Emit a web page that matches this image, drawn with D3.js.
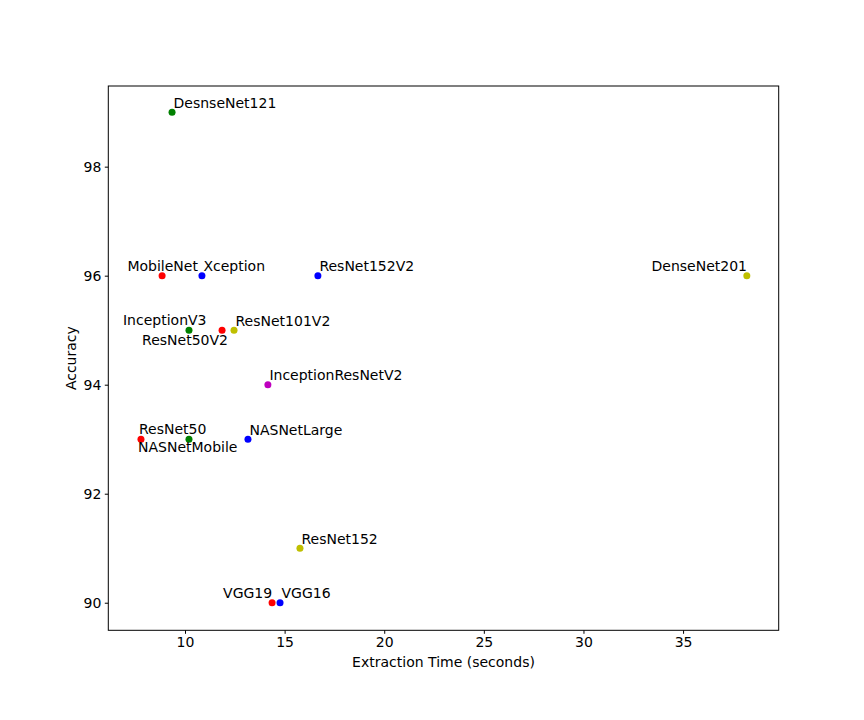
<!DOCTYPE html>
<html>
<head>
<meta charset="utf-8">
<script src="https://cdn.jsdelivr.net/npm/d3@7"></script>
<style>
body { margin: 0; background: #fff; }
text { font-family: "DejaVu Sans", sans-serif; fill: #000; }
.axis path, .axis line { stroke: #000; }
</style>
</head>
<body>
<script>
// model names, extraction time (s), accuracy (%), marker colour
var models   = ["DesnseNet121", "MobileNet", "Xception", "ResNet152V2", "DenseNet201",
                "InceptionV3", "ResNet50V2", "ResNet101V2", "InceptionResNetV2",
                "ResNet50", "NASNetMobile", "NASNetLarge", "ResNet152", "VGG19", "VGG16"];
var times    = [9.35, 8.85, 10.85, 16.67, 38.2,
                10.2, 11.86, 12.46, 14.16,
                7.79, 10.2, 13.16, 15.77, 14.37, 14.77];
var accuracy = [99, 96, 96, 96, 96,
                95, 95, 95, 94,
                93, 93, 93, 91, 90, 90];
var colors   = ["g", "r", "b", "b", "y",
                "g", "r", "y", "m",
                "r", "g", "b", "y", "r", "b"];

var xTicks = [10, 15, 20, 25, 30, 35];
var yTicks = [90, 92, 94, 96, 98];

// matplotlib short colour codes
var colorMap = {r: "#ff0000", g: "#008000", b: "#0000ff", y: "#bfbf00", m: "#bf00bf"};

// label placement relative to its point, in px
var labelOffset = {
    "MobileNet":    [-34.7, -4.3],
    "DenseNet201":  [-95.3, -4.6],
    "InceptionV3":  [-66, -4.8],
    "ResNet50V2":   [-80, 14.7],
    "ResNet50":     [-2, -5],
    "NASNetMobile": [-51, 13],
    "VGG19":        [-49, -4.3]
};

var width  = 864;
var height = 720;
var margin = {left: 108.3, right: 864 - 778.7, top: 86, bottom: 720 - 630.3};

var svg = d3.select("body").append("svg").attr("width", width).attr("height", height);

var x = d3.scaleLinear().domain([6.15, 39.8]).range([margin.left, width - margin.right]);
var y = d3.scaleLinear().domain([89.494, 99.48]).range([height - margin.bottom, margin.top]);

var data = models.map(function(m, i) {
    return {name: m, t: times[i], acc: accuracy[i], c: colors[i]};
});

var xAxis = d3.axisBottom(x).tickValues(xTicks).tickSize(3.5).tickPadding(3.5).tickSizeOuter(0);
var yAxis = d3.axisLeft(y).tickValues(yTicks).tickSize(3.5).tickPadding(3.5).tickSizeOuter(0);

var gx = svg.append("g").attr("class", "axis")
    .attr("transform", "translate(0," + (height - margin.bottom) + ")").call(xAxis);
var gy = svg.append("g").attr("class", "axis")
    .attr("transform", "translate(" + margin.left + ",0)").call(yAxis);

[gx, gy].forEach(function(g) {
    g.select(".domain").remove();
    g.selectAll("text").style("font-size", "14px").style("font-family", "DejaVu Sans");
});

// frame
svg.append("rect")
    .attr("x", margin.left).attr("y", margin.top)
    .attr("width", width - margin.right - margin.left)
    .attr("height", height - margin.bottom - margin.top)
    .attr("fill", "none").attr("stroke", "#000").attr("stroke-width", 1);

svg.selectAll("circle.pt").data(data).enter().append("circle")
    .attr("class", "pt")
    .attr("cx", function(d) { return x(d.t); })
    .attr("cy", function(d) { return y(d.acc); })
    .attr("r", 3.5)
    .attr("fill", function(d) { return colorMap[d.c]; });

svg.selectAll("text.lbl").data(data).enter().append("text")
    .attr("class", "lbl")
    .attr("x", function(d) { var o = labelOffset[d.name] || [1.5, -4.5]; return x(d.t) + o[0]; })
    .attr("y", function(d) { var o = labelOffset[d.name] || [1.5, -4.5]; return y(d.acc) + o[1]; })
    .style("font-size", "14px")
    .text(function(d) { return d.name; });

svg.append("text")
    .attr("x", (margin.left + width - margin.right) / 2).attr("y", 666.5)
    .attr("text-anchor", "middle").style("font-size", "14px")
    .text("Extraction Time (seconds)");

svg.append("text")
    .attr("transform", "translate(75.5," + ((margin.top + height - margin.bottom) / 2) + ") rotate(-90)")
    .attr("text-anchor", "middle").style("font-size", "14px")
    .text("Accuracy");
</script>
</body>
</html>
